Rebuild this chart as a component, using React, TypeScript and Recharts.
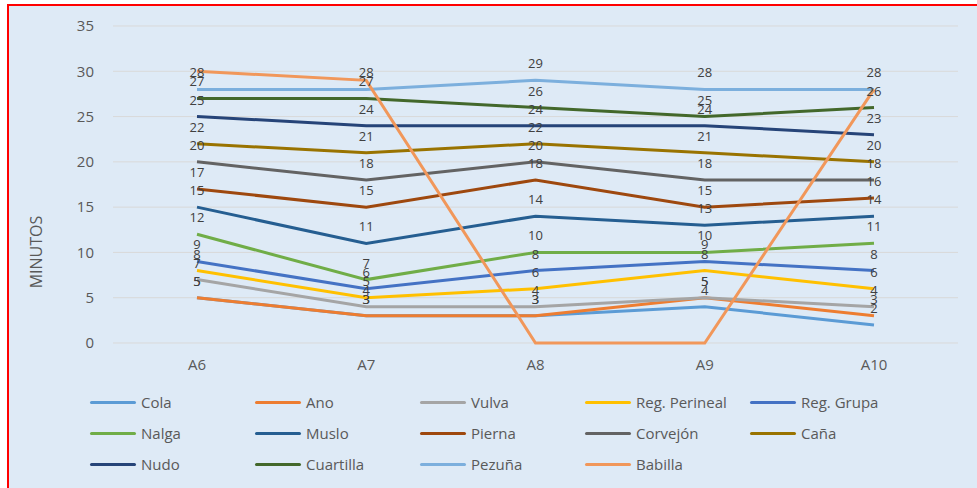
import React from 'react';
import { LineChart, Line, XAxis, YAxis, CartesianGrid, LabelList } from 'recharts';

const categories = ['A6', 'A7', 'A8', 'A9', 'A10'];

const cola = [5, 3, 3, 4, 2];
const ano = [5, 3, 3, 5, 3];
const vulva = [7, 4, 4, 5, 4];
const perineal = [8, 5, 6, 8, 6];
const grupa = [9, 6, 8, 9, 8];
const nalga = [12, 7, 10, 10, 11];
const muslo = [15, 11, 14, 13, 14];
const pierna = [17, 15, 18, 15, 16];
const corvejon = [20, 18, 20, 18, 18];
const cana = [22, 21, 22, 21, 20];
const nudo = [25, 24, 24, 24, 23];
const cuartilla = [27, 27, 26, 25, 26];
const pezuna = [28, 28, 29, 28, 28];
const babilla = [30, 29, 0, 0, 28];

const yTicks = [0, 5, 10, 15, 20, 25, 30, 35];

const series = [
  { key: 'cola', name: 'Cola', values: cola, color: '#5B9BD5', labels: true },
  { key: 'ano', name: 'Ano', values: ano, color: '#ED7D31', labels: true },
  { key: 'vulva', name: 'Vulva', values: vulva, color: '#A5A5A5', labels: true },
  { key: 'perineal', name: 'Reg. Perineal', values: perineal, color: '#FFC000', labels: true },
  { key: 'grupa', name: 'Reg. Grupa', values: grupa, color: '#4472C4', labels: true },
  { key: 'nalga', name: 'Nalga', values: nalga, color: '#70AD47', labels: true },
  { key: 'muslo', name: 'Muslo', values: muslo, color: '#255E91', labels: true },
  { key: 'pierna', name: 'Pierna', values: pierna, color: '#9E480E', labels: true },
  { key: 'corvejon', name: 'Corvejón', values: corvejon, color: '#636363', labels: true },
  { key: 'cana', name: 'Caña', values: cana, color: '#997300', labels: true },
  { key: 'nudo', name: 'Nudo', values: nudo, color: '#264478', labels: true },
  { key: 'cuartilla', name: 'Cuartilla', values: cuartilla, color: '#43682B', labels: true },
  { key: 'pezuna', name: 'Pezuña', values: pezuna, color: '#7CAFDD', labels: true },
  { key: 'babilla', name: 'Babilla', values: babilla, color: '#F1975A', labels: false },
];

const data = categories.map((c, i) => {
  const row: any = { cat: c };
  series.forEach((s) => {
    row[s.key] = s.values[i];
  });
  return row;
});

const FONT = '"Open Sans", "Liberation Sans", sans-serif';

const LegendBlock = () => (
  <div
    style={{
      position: 'absolute',
      left: 90,
      top: 391,
      display: 'grid',
      gridTemplateColumns: 'repeat(5, 165px)',
      rowGap: 9,
      fontFamily: FONT,
      fontSize: 15,
      color: '#595959',
    }}
  >
    {series.map((s) => (
      <div key={s.key} style={{ display: 'flex', alignItems: 'center', height: 22 }}>
        <span
          style={{
            display: 'inline-block',
            width: 46,
            height: 3,
            borderRadius: 2,
            background: s.color,
            marginRight: 5,
          }}
        />
        <span>{s.name}</span>
      </div>
    ))}
  </div>
);

const yLabel = () => (
  <text
    x={36}
    y={252}
    transform="rotate(-90, 36, 252)"
    textAnchor="middle"
    dominantBaseline="central"
    fill="#595959"
    fontSize={16}
    fontFamily={FONT}
  >
    MINUTOS
  </text>
);

export default function App() {
  return (
    <div style={{ position: 'absolute', left: 0, top: 0, width: 977, height: 488, background: '#fff' }}>
      <div
        style={{
          position: 'absolute',
          left: 7,
          top: 4,
          width: 970,
          height: 484,
          boxSizing: 'border-box',
          borderLeft: '2px solid #FF0000',
          borderTop: '2px solid #FF0000',
          background: '#DEEAF6',
        }}
      />
      <div style={{ position: 'absolute', left: 0, top: 0 }}>
        <LineChart
          width={977}
          height={488}
          data={data}
          margin={{ top: 26, right: 19, left: 53, bottom: 115 }}
        >
          <CartesianGrid vertical={false} stroke="#D9D9D9" strokeWidth={1} />
          <XAxis
            dataKey="cat"
            axisLine={false}
            tickLine={false}
            tickSize={0}
            tickMargin={16}
            height={30}
            padding={{ left: 84, right: 84 }}
            tick={{ fill: '#595959', fontSize: 15, fontFamily: FONT }}
          />
          <YAxis
            domain={[0, 35]}
            ticks={yTicks}
            interval={0}
            axisLine={false}
            tickLine={false}
            tickSize={0}
            tickMargin={19}
            width={60}
            tick={{ fill: '#595959', fontSize: 15, fontFamily: FONT }}
            label={{ value: 'MINUTOS', content: yLabel }}
          />
          {series.map((s) => (
            <Line
              key={s.key}
              dataKey={s.key}
              name={s.name}
              stroke={s.color}
              strokeWidth={3}
              dot={false}
              activeDot={false}
              isAnimationActive={false}
            >
              {s.labels ? (
                <LabelList
                  dataKey={s.key}
                  position="top"
                  offset={12}
                  fill="#404040"
                  fontSize={13}
                  fontFamily={FONT}
                />
              ) : null}
            </Line>
          ))}
        </LineChart>
      </div>
      <LegendBlock />
    </div>
  );
}
